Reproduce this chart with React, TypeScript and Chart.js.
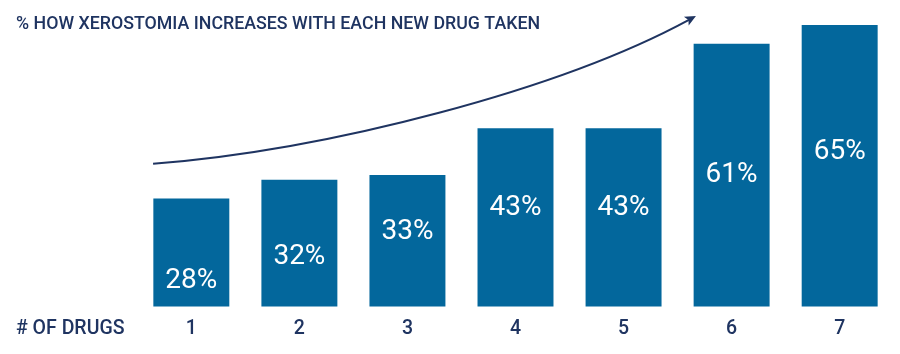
import React, { useEffect, useRef } from 'react';
import { Chart, registerables } from 'chart.js';

Chart.register(...registerables);

const titleText = '% HOW XEROSTOMIA INCREASES WITH EACH NEW DRUG TAKEN';
const axisTitle = '# OF DRUGS';
const drugCounts = ['1', '2', '3', '4', '5', '6', '7'];
const xerostomiaPct = [28, 32, 33, 43, 43, 61, 65];
// vertical anchor of each value label, in y-axis (percent) units
const labelLevels = [10.5, 15.5, 20.9, 26.0, 26.0, 33.0, 38.0];
// trend arrow bezier control points: x in category index units, y in percent units
const trendArrow = [
  { x: -0.354, y: 35.4 },
  { x: 1.284, y: 38.4 },
  { x: 3.412, y: 51.2 },
  { x: 4.67, y: 66.9 },
];

const BAR_BLUE = '#03679c';
const NAVY = '#1f3461';
const FONT = 'Roboto, "Noto Sans", sans-serif';

const overlayPlugin = {
  id: 'overlay',
  afterDraw(chart: any) {
    const { ctx, scales } = chart;
    const x = scales.x;
    const y = scales.y;
    ctx.save();

    // value labels
    ctx.fillStyle = '#ffffff';
    ctx.font = `400 28px ${FONT}`;
    ctx.textAlign = 'center';
    ctx.textBaseline = 'middle';
    xerostomiaPct.forEach((v, i) => {
      ctx.fillText(`${v}%`, x.getPixelForValue(i), y.getPixelForValue(labelLevels[i]));
    });

    // trend arrow
    const p = trendArrow.map((pt) => ({ x: x.getPixelForValue(pt.x), y: y.getPixelForValue(pt.y) }));
    const ang = Math.atan2(p[3].y - p[2].y, p[3].x - p[2].x);
    const headLen = 11;
    const headHalf = 5;
    const baseX = p[3].x - headLen * Math.cos(ang);
    const baseY = p[3].y - headLen * Math.sin(ang);
    ctx.strokeStyle = NAVY;
    ctx.lineWidth = 2;
    ctx.beginPath();
    ctx.moveTo(p[0].x, p[0].y);
    ctx.bezierCurveTo(p[1].x, p[1].y, p[2].x, p[2].y, baseX + 3 * Math.cos(ang), baseY + 3 * Math.sin(ang));
    ctx.stroke();
    ctx.fillStyle = NAVY;
    ctx.beginPath();
    ctx.moveTo(p[3].x, p[3].y);
    ctx.lineTo(baseX - headHalf * Math.sin(ang), baseY + headHalf * Math.cos(ang));
    ctx.lineTo(baseX + 2.5 * Math.cos(ang), baseY + 2.5 * Math.sin(ang));
    ctx.lineTo(baseX + headHalf * Math.sin(ang), baseY - headHalf * Math.cos(ang));
    ctx.closePath();
    ctx.fill();

    // title
    ctx.fillStyle = NAVY;
    ctx.textAlign = 'left';
    ctx.textBaseline = 'alphabetic';
    ctx.font = `500 17.8px ${FONT}`;
    ctx.fillText(titleText, 16, 28.5);

    // x axis title
    ctx.font = `500 19.5px ${FONT}`;
    ctx.textBaseline = 'middle';
    ctx.fillText(axisTitle, 16, x.top + 11.2 + 11.7);

    ctx.restore();
  },
};

export default function App() {
  const canvasRef = useRef<HTMLCanvasElement | null>(null);

  useEffect(() => {
    if (!canvasRef.current) return;
    const chart = new Chart(canvasRef.current, {
      type: 'bar',
      data: {
        labels: drugCounts,
        datasets: [
          {
            data: xerostomiaPct,
            backgroundColor: BAR_BLUE,
            borderWidth: 0,
            barPercentage: 0.703,
            categoryPercentage: 1,
          },
        ],
      },
      options: {
        animation: false,
        responsive: true,
        maintainAspectRatio: false,
        layout: { padding: { left: 137.3, right: 6.3, top: 24.9, bottom: 1.7 } },
        plugins: {
          legend: { display: false },
          tooltip: { enabled: false },
          title: { display: false },
        },
        scales: {
          x: {
            grid: { display: false, drawTicks: false },
            border: { display: false },
            ticks: {
              color: NAVY,
              padding: 11.2,
              font: { family: FONT, size: 19.5, weight: '500' as any },
            },
          },
          y: {
            display: false,
            min: 5,
            max: 65,
          },
        },
      },
      plugins: [overlayPlugin],
    });
    return () => chart.destroy();
  }, []);

  return (
    <div style={{ position: 'fixed', left: 0, top: 0, width: 900, height: 354, background: '#ffffff' }}>
      <canvas ref={canvasRef} />
    </div>
  );
}
